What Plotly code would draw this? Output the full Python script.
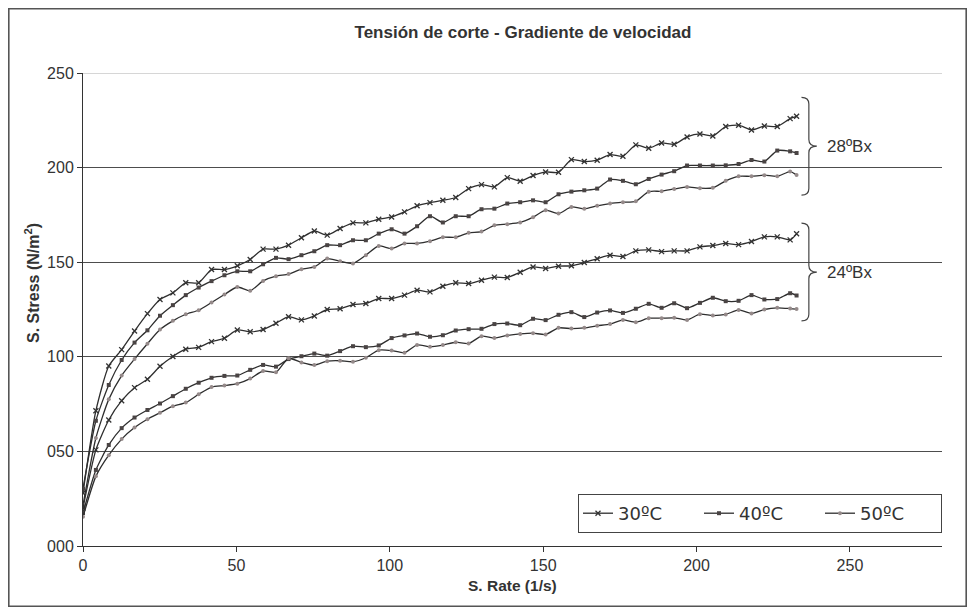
import plotly.graph_objects as go

# ---------------- data ----------------
shear_rate = [0.0, 4.2, 8.4, 12.6, 16.8, 21.0, 25.1, 29.3, 33.5, 37.7, 41.9, 46.1, 50.3, 54.5,
              58.7, 62.9, 67.0, 71.2, 75.4, 79.6, 83.8, 88.0, 92.2, 96.4, 100.6, 104.8, 108.9,
              113.1, 117.3, 121.5, 125.7, 129.9, 134.1, 138.3, 142.5, 146.7, 150.8, 155.0, 159.2,
              163.4, 167.6, 171.8, 176.0, 180.2, 184.4, 188.6, 192.7, 196.9, 201.1, 205.3, 209.5,
              213.7, 217.9, 222.1, 226.3, 230.5, 232.6]

bx28_30C = [28.0, 71.5, 95.1, 103.8, 113.6, 122.8, 130.3, 133.8, 139.1, 139.1, 146.1, 146.1, 148.1,
            151.4, 156.9, 156.9, 159.0, 162.9, 166.5, 164.3, 167.8, 170.8, 170.8, 172.7, 173.9, 176.6,
            179.8, 181.5, 182.7, 184.2, 188.9, 191.0, 189.8, 194.7, 192.8, 195.8, 197.7, 197.5, 204.2,
            203.2, 203.9, 206.9, 206.0, 212.0, 210.2, 213.0, 212.3, 216.2, 217.8, 216.7, 221.7, 222.4,
            219.9, 222.0, 221.7, 225.9, 227.1]
bx28_40C = [30.3, 66.2, 85.1, 98.3, 107.5, 114.0, 121.7, 127.3, 132.6, 136.6, 140.0, 143.1, 145.2,
            145.2, 148.9, 152.3, 151.6, 153.7, 155.8, 159.0, 159.0, 161.6, 161.6, 165.1, 167.4, 165.1,
            169.0, 174.3, 171.0, 174.3, 174.3, 178.0, 178.3, 181.0, 181.7, 182.7, 181.7, 185.9, 187.3,
            188.0, 188.9, 193.7, 193.0, 191.2, 194.0, 196.3, 198.1, 201.1, 201.1, 201.1, 201.2, 201.9,
            204.0, 203.2, 209.0, 208.6, 207.7]
bx28_50C = [21.5, 57.1, 77.5, 90.1, 98.8, 106.9, 114.4, 119.0, 122.5, 124.6, 128.7, 132.9, 136.9,
            134.9, 140.1, 142.6, 143.7, 146.3, 147.5, 151.9, 150.5, 149.3, 153.7, 158.6, 157.2, 159.9,
            159.9, 161.1, 163.2, 163.2, 165.5, 166.2, 169.5, 170.1, 171.0, 173.8, 177.5, 175.7, 179.2,
            178.2, 179.8, 181.0, 181.7, 182.2, 187.3, 187.5, 188.7, 189.8, 189.1, 189.3, 193.0, 195.4,
            195.4, 196.0, 195.4, 197.9, 196.1]
bx24_30C = [20.1, 50.8, 66.6, 76.8, 83.7, 88.1, 95.0, 100.2, 104.0, 105.0, 108.0, 109.8, 114.2,
            113.2, 114.4, 117.7, 121.2, 119.5, 121.6, 125.0, 125.4, 127.6, 128.2, 130.8, 130.8, 132.6,
            135.2, 134.3, 137.3, 139.1, 138.7, 140.5, 142.1, 141.9, 144.7, 147.5, 146.7, 147.9, 148.1,
            149.8, 151.8, 153.7, 153.0, 156.0, 156.5, 155.6, 156.0, 156.0, 158.1, 158.8, 159.9, 159.3,
            160.9, 163.4, 163.4, 161.8, 165.0]
bx24_40C = [17.5, 40.2, 53.4, 62.3, 67.9, 71.9, 75.3, 79.2, 83.1, 86.3, 88.9, 89.9, 90.1, 93.1,
            95.7, 94.8, 98.8, 100.3, 101.7, 100.6, 103.0, 105.6, 105.1, 106.0, 109.9, 111.3, 112.3,
            110.6, 111.4, 113.9, 114.6, 114.8, 117.3, 117.6, 116.7, 120.1, 119.4, 122.2, 123.6, 121.0,
            123.4, 124.5, 123.2, 125.4, 128.0, 125.9, 128.3, 125.7, 128.5, 131.2, 129.4, 129.6, 132.6,
            130.3, 130.5, 133.6, 132.4]
bx24_50C = [15.4, 36.8, 48.0, 56.5, 62.6, 67.0, 70.4, 73.9, 75.8, 80.2, 84.0, 84.8, 85.8, 88.5,
            92.5, 91.8, 99.2, 97.0, 95.6, 97.7, 97.9, 97.4, 99.5, 103.5, 103.3, 102.1, 106.3, 105.3,
            106.2, 107.7, 107.0, 110.9, 109.9, 111.3, 112.1, 112.5, 111.8, 115.3, 114.9, 115.3, 116.4,
            117.3, 119.5, 118.3, 120.4, 120.4, 120.6, 119.5, 122.5, 121.8, 122.4, 124.8, 122.9, 125.0,
            125.9, 125.5, 125.2]

temperatures = ["30ºC", "40ºC", "50ºC"]
groups = ["28ºBx", "24ºBx"]
y_tick_vals = [0, 50, 100, 150, 200, 250]
y_tick_text = ["000", "050", "100", "150", "200", "250"]
x_tick_vals = [0, 50, 100, 150, 200, 250]

# ---------------- styles ----------------
FONT = "Liberation Sans, Arial, sans-serif"
styles = {
    "30ºC": dict(symbol="x-thin", size=5, color="#333333", line=dict(width=1.3, color="#333333")),
    "40ºC": dict(symbol="square", size=4, color="#4a4444", line=dict(width=0)),
    "50ºC": dict(symbol="circle", size=4, color="#958a8a", line=dict(width=0)),
}

series = [
    ("30ºC", bx28_30C, True), ("40ºC", bx28_40C, True), ("50ºC", bx28_50C, True),
    ("30ºC", bx24_30C, False), ("40ºC", bx24_40C, False), ("50ºC", bx24_50C, False),
]

fig = go.Figure()
for name, ys, show in series:
    fig.add_trace(go.Scatter(
        x=shear_rate, y=ys, name=name, legendgroup=name, showlegend=show,
        mode="lines+markers",
        line=dict(color="#2e2e2e", width=1.3, shape="spline", smoothing=0.6),
        marker=styles[name],
    ))

# figure geometry (the page adds an 8 px body margin)
W, H = 959, 599
ml, mr, mt, mb = 75, 25, 65, 61
pw, ph = W - ml - mr, H - mt - mb

def px_x(p):
    return (p - ml) / pw

def px_y(p):
    return (H - mb - p) / ph

shapes = []
# outer chart frame (figure edge)
shapes.append(dict(type="rect", xref="paper", yref="paper",
                   x0=px_x(0.8), x1=px_x(W - 0.8), y0=px_y(H - 0.8), y1=px_y(0.8),
                   line=dict(color="#555555", width=1.6), layer="below"))
# light top gridline at 250
shapes.append(dict(type="line", xref="paper", yref="y", x0=0, x1=1, y0=250, y1=250,
                   line=dict(color="#d6d6d6", width=2)))

# curly braces (data coordinates)
def brace(xh, xs, xt, ytop, ybot):
    ym = (ytop + ybot) / 2
    r = 3.5
    return (f"M {xh},{ytop} Q {xs},{ytop} {xs},{ytop - r} "
            f"L {xs},{ym + r} Q {xs},{ym} {xt},{ym} "
            f"Q {xs},{ym} {xs},{ym - r} "
            f"L {xs},{ybot + r} Q {xs},{ybot} {xh},{ybot}")

brace_specs = [(237.1, 185.5), (170.6, 119.0)]
for (yt, yb) in brace_specs:
    shapes.append(dict(type="path", xref="x", yref="y",
                       path=brace(234.2, 236.6, 239.2, yt, yb),
                       line=dict(color="#444444", width=1.2)))

annotations = []
for g, (yt, yb) in zip(groups, brace_specs):
    annotations.append(dict(x=242, y=(yt + yb) / 2, xref="x", yref="y", text=g,
                            showarrow=False, xanchor="left", yanchor="middle",
                            font=dict(family=FONT, size=17, color="#333333")))
# axis titles
annotations.append(dict(x=0.5, y=px_y(577), xref="paper", yref="paper",
                        text="<b>S. Rate (1/s)</b>", showarrow=False,
                        xanchor="center", yanchor="middle",
                        font=dict(family=FONT, size=15.5, color="#333333")))
annotations.append(dict(x=px_x(24), y=px_y(275), xref="paper", yref="paper",
                        text="<b>S. Stress (N/m<sup>2</sup>)</b>", showarrow=False,
                        textangle=-90, xanchor="center", yanchor="middle",
                        font=dict(family=FONT, size=16, color="#333333")))

fig.update_layout(
    width=W, height=H,
    margin=dict(l=ml, r=mr, t=mt, b=mb, autoexpand=False),
    paper_bgcolor="white", plot_bgcolor="white",
    title=dict(text="<b>Tensión de corte - Gradiente de velocidad</b>",
               x=px_x(515), xref="paper", xanchor="center",
               y=1 - 24 / H, yref="container", yanchor="middle",
               font=dict(family=FONT, size=17, color="#333333")),
    xaxis=dict(range=[0, 280], tickvals=x_tick_vals, showgrid=False, zeroline=False,
               showline=True, linecolor="#333333", linewidth=1,
               ticks="outside", ticklen=5, tickcolor="#333333",
               tickfont=dict(family=FONT, size=16, color="#333333")),
    yaxis=dict(range=[0, 250], tickvals=y_tick_vals, ticktext=y_tick_text,
               showgrid=True, gridcolor="#4d4d4d", gridwidth=1, zeroline=False,
               showline=True, linecolor="#333333", linewidth=1,
               ticks="outside", ticklen=5, tickcolor="#333333",
               tickfont=dict(family=FONT, size=16, color="#333333")),
    legend=dict(orientation="h", x=px_x(570), xanchor="left", y=px_y(486), yanchor="top",
                bordercolor="#444444", borderwidth=1, bgcolor="white",
                entrywidth=76, itemwidth=30,
                font=dict(family="DejaVu Sans", size=18, color="#333333")),
    shapes=shapes, annotations=annotations,
)

fig.write_html("out.html")
